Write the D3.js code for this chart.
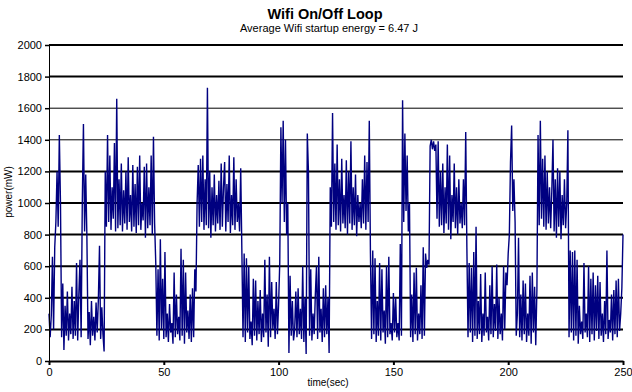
<!DOCTYPE html>
<html>
<head>
<meta charset="utf-8">
<script src="https://cdn.jsdelivr.net/npm/d3@7"></script>
<style>
  body { margin: 0; background: #fff; }
  svg { display: block; }
  text { font-family: "Liberation Sans", Arial, sans-serif; fill: #000; }
</style>
</head>
<body>
<svg id="chart" width="632" height="392"></svg>
<script>
const chartTitle = 'Wifi On/Off Loop';
const chartSubtitle = 'Average Wifi startup energy = 6.47 J';
const xLabel = 'time(sec)';
const yLabel = 'power(mW)';

// one sample every half second
const sampleStepSec = 0.5;
const powerMw = [
  // 0 - 14 s
  300, 150, 290, 660, 200, 720,
  880, 1200, 850, 1430, 1000,
  150, 490, 70, 350, 160, 440, 130, 300, 170, 470, 140, 380, 160, 620, 130, 420, 640, 150,
  // 14.5 - 24 s
  1000, 1500, 820, 1180, 790,
  140, 310, 100, 380, 160, 280, 130, 370, 180, 390, 730, 140, 340, 170, 60,
  // 24.5 - 46 s
  1200, 850, 1430, 880, 1300, 830, 1100, 900, 1380, 820, 1660, 840, 1150, 860, 1250, 820,
  1080, 870, 1200, 830, 1290, 880, 1050, 820, 1240, 850, 1120, 810, 1230, 860, 1300, 830,
  1000, 890, 1230, 780, 1250, 840, 1100, 860, 1300, 800, 1420, 870,
  // 46.5 - 64 s
  620, 160, 580, 130, 770, 200, 520, 140, 690, 150, 300, 120, 360, 180, 240, 110, 560, 150,
  420, 170, 280, 130, 710, 160, 640, 110, 560, 180, 320, 140, 420, 120, 460, 150, 580, 440,
  // 64.5 - 83.5 s
  1000, 1240, 850, 1280, 880, 1300, 830, 1150, 860, 1730, 840, 1200, 780, 1100, 860, 1180,
  820, 1050, 870, 1140, 830, 1250, 850, 1100, 1260, 820, 1120, 880, 1300, 810, 1050, 860,
  1290, 830, 1150, 880, 1000, 820, 1220,
  // 84 - 100.5 s
  700, 150, 680, 120, 650, 180, 600, 140, 250, 100, 520, 160, 510, 130, 380, 170, 450,
  120, 300, 150, 640, 180, 420, 90, 660, 150, 500, 200, 330, 140, 500, 170, 360, 620,
  // 101 - 104 s
  1480, 1000, 1520, 880, 1400, 800, 1000,
  // 104.5 - 122 s
  50, 540, 160, 380, 130, 200, 440, 150, 460, 170, 330, 140, 600, 120, 400,
  45, 1440, 1200,
  160, 580, 130, 300, 170, 420, 600, 140, 660, 180, 330, 120, 460, 150, 480, 170, 400, 50,
  // 122.5 - 139.5 s
  1100, 850, 1570, 880, 1250, 830, 1370, 860, 1150, 820, 1280, 870, 1050, 840, 1270, 800,
  1200, 870, 1390, 830, 1100, 860, 1180, 790, 1050, 880, 1000, 840, 1150, 870, 1300, 830,
  1260, 880, 1520,
  // 140 - 153.5 s
  680, 140, 700, 170, 650, 120, 380, 160, 620, 130, 580, 180, 320, 110, 600, 150, 660, 170,
  240, 130, 430, 180, 400, 150, 240, 130, 740, 160,
  // 154 - 157 s
  1650, 880, 1440, 950, 1300, 820, 1000,
  // 157.5 - 165.5 s
  150, 420, 120, 560, 170, 590, 130, 300, 170, 480, 140, 720, 160, 680, 590, 640, 610,
  // 166 - 181.5 s
  1360, 1400, 1340, 1390, 1330, 1370, 900, 1390, 850, 1200, 860, 1250, 810, 1100, 870, 1370,
  830, 1300, 770, 1050, 880, 1250, 840, 1100, 800, 1150, 870, 1000, 840, 1150, 860, 1450,
  // 182 - 200 s
  720, 150, 620, 180, 590, 120, 690, 160, 850, 140, 380, 170, 550, 120, 300, 160, 560, 180,
  280, 130, 480, 170, 600, 150, 360, 190, 610, 140, 400, 170, 300, 130, 600, 200, 560, 480, 680,
  // 200.5 - 203 s
  800, 1260, 1490, 950, 1150, 880,
  // 203.5 - 212.5 s
  160, 300, 780, 150, 420, 130, 510, 170, 490, 120, 300, 160, 540, 110, 560, 180, 470, 100, 450,
  // 213 - 226 s
  1430, 860, 1520, 900, 1280, 850, 1300, 830, 1200, 870, 1100, 840, 1080, 1400, 820, 1150,
  780, 1220, 850, 1200, 770, 1050, 860, 1150, 840, 1000, 1460,
  // 226.5 - 250 s
  150, 700, 180, 690, 130, 700, 160, 640, 110, 350, 170, 250, 140, 620, 180, 300, 150, 600,
  120, 520, 170, 560, 130, 480, 190, 540, 140, 500, 160, 300, 120, 380, 170, 700, 140, 260,
  180, 420, 130, 450, 170, 510, 150, 520, 190, 300, 460, 800
];

const xTicks = [0, 50, 100, 150, 200, 250];
const yTicks = [0, 200, 400, 600, 800, 1000, 1200, 1400, 1600, 1800, 2000];
const thinGridValues = [1400, 1600];

const plot = { left: 49, right: 623, top: 45, bottom: 361 };

const svg = d3.select('#chart');

const x = d3.scaleLinear().domain([0, 250]).range([plot.left, plot.right]);
const y = d3.scaleLinear().domain([0, 2000]).range([plot.bottom, plot.top]);

// titles
svg.append('text')
  .attr('x', 325)
  .attr('y', 19)
  .attr('text-anchor', 'middle')
  .attr('font-size', '14.5px')
  .attr('font-weight', 'bold')
  .text(chartTitle);

svg.append('text')
  .attr('x', 329)
  .attr('y', 32)
  .attr('text-anchor', 'middle')
  .attr('font-size', '11px')
  .text(chartSubtitle);

// horizontal grid lines
svg.append('g')
  .selectAll('line')
  .data(yTicks.filter((d) => d > 0))
  .join('line')
  .attr('x1', plot.left)
  .attr('x2', plot.right)
  .attr('y1', (d) => y(d))
  .attr('y2', (d) => y(d))
  .attr('stroke', '#000')
  .attr('stroke-width', (d) => (thinGridValues.includes(d) ? 1 : 2));

// data trace
const line = d3
  .line()
  .x((d, i) => x(i * sampleStepSec))
  .y((d) => y(d));

svg.append('path')
  .datum(powerMw)
  .attr('fill', 'none')
  .attr('stroke', '#000080')
  .attr('stroke-width', 1.4)
  .attr('stroke-linejoin', 'miter')
  .attr('d', line);

// y axis
const yAxis = svg.append('g')
  .attr('transform', `translate(${plot.left},0)`)
  .call(
    d3.axisLeft(y)
      .tickValues(yTicks)
      .tickFormat(d3.format('d'))
      .tickSize(4)
      .tickSizeOuter(0)
      .tickPadding(3)
  );
yAxis.select('.domain').attr('stroke', '#000').attr('stroke-width', 1);
yAxis.selectAll('.tick line').attr('stroke', '#000').attr('stroke-width', 1.5);
yAxis.selectAll('text')
  .attr('font-size', '11px')
  .attr('font-family', '"Liberation Sans", Arial, sans-serif')
  .attr('fill', '#000');

// x axis
const xAxis = svg.append('g')
  .attr('transform', `translate(0,${plot.bottom})`)
  .call(d3.axisBottom(x).tickValues(xTicks).tickSize(4).tickSizeOuter(0).tickPadding(3));
xAxis.select('.domain').attr('stroke', '#000').attr('stroke-width', 2);
xAxis.selectAll('.tick line').attr('stroke', '#000').attr('stroke-width', 2);
xAxis.selectAll('text')
  .attr('font-size', '11px')
  .attr('font-family', '"Liberation Sans", Arial, sans-serif')
  .attr('fill', '#000');

// axis titles
svg.append('text')
  .attr('x', 328)
  .attr('y', 386)
  .attr('text-anchor', 'middle')
  .attr('font-size', '10px')
  .text(xLabel);

svg.append('text')
  .attr('transform', 'translate(12,192) rotate(-90)')
  .attr('text-anchor', 'middle')
  .attr('font-size', '10px')
  .text(yLabel);
</script>
</body>
</html>
